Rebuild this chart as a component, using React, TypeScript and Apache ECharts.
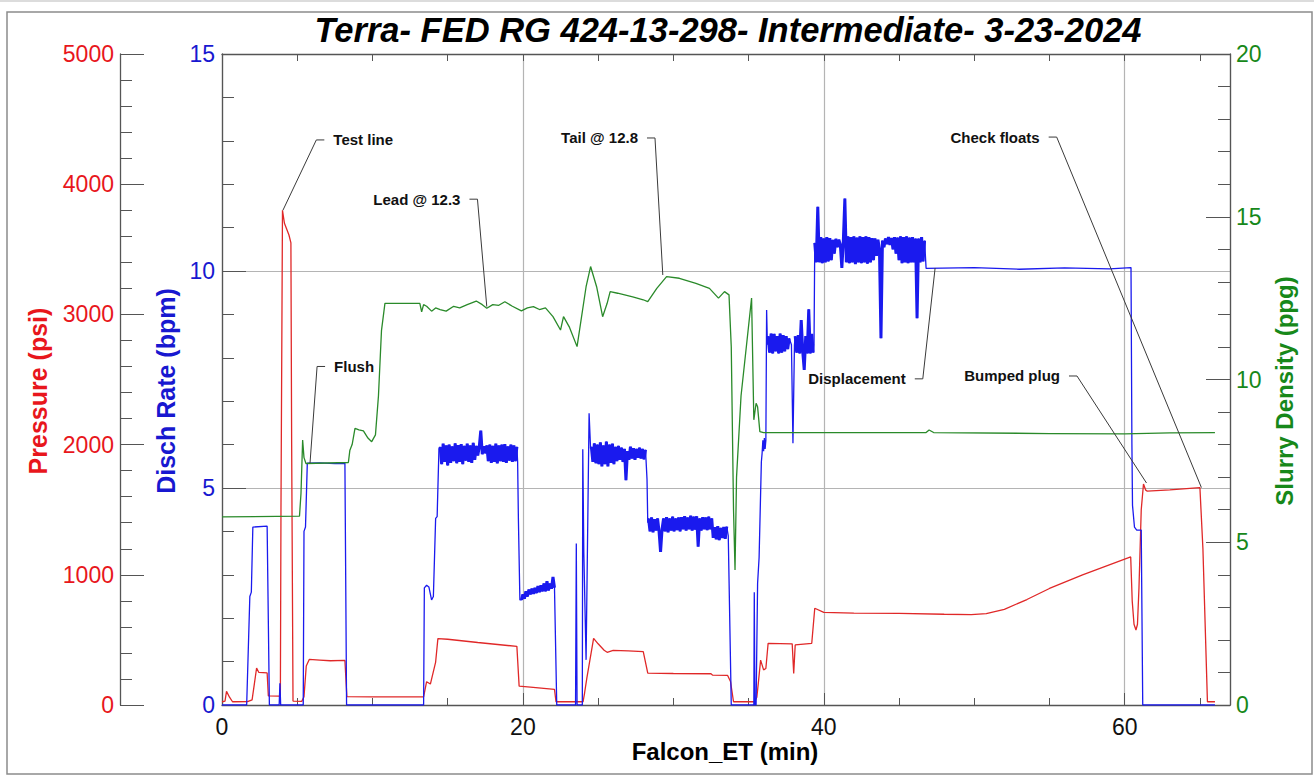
import React, { useEffect, useRef } from "react";
import * as echarts from "echarts";

// ---------- texts ----------
const TITLE = "Terra- FED RG 424-13-298- Intermediate- 3-23-2024";
const X_NAME = "Falcon_ET (min)";
const P_NAME = "Pressure (psi)";
const R_NAME = "Disch Rate (bpm)";
const D_NAME = "Slurry Density (ppg)";

// ---------- data (time in min, value) ----------
const pressure: [number, number][] = [
  [0, 25], [0.2, 30], [0.3, 105], [0.5, 60], [0.7, 25], [1.7, 26], [2.0, 40], [2.3, 284], [2.45, 250],
  [3.0, 246], [3.08, 70], [3.8, 68], [3.88, 70], [3.92, 1500], [4.02, 3800], [4.15, 3700], [4.45, 3610],
  [4.58, 3550], [4.63, 2000], [4.72, 30], [5.3, 28], [5.45, 64], [5.6, 300], [5.8, 350], [6.5, 345],
  [7.2, 340], [8.17, 342], [8.3, 64], [10, 62], [13.4, 62], [13.6, 179], [13.85, 161], [14.2, 330],
  [14.35, 510], [15, 505], [17, 480], [19.6, 450], [19.75, 145], [20.5, 138], [22.1, 120], [22.2, 25],
  [24.0, 25], [24.1, 92], [24.25, 207], [24.7, 512], [25.0, 470], [25.4, 420], [25.6, 405], [26.0, 420],
  [27.0, 415], [28.0, 410], [28.3, 245], [30, 242], [32.5, 240], [32.6, 230], [33.6, 228], [33.8, 180],
  [34.0, 25], [35.4, 25], [35.55, 60], [35.65, 170], [35.8, 345], [36.0, 270], [36.15, 280], [36.3, 474],
  [37.9, 470], [38.0, 243], [38.1, 461], [39.2, 474], [39.4, 743], [40, 712], [42, 706], [45, 704],
  [48, 697], [49.8, 694], [50.8, 702], [52, 735], [53.5, 810], [55, 895], [57.2, 1000], [60.4, 1137],
  [60.5, 800], [60.62, 620], [60.75, 576], [60.85, 620], [60.95, 900], [61.1, 1500], [61.25, 1697],
  [61.4, 1650], [61.5, 1643], [63, 1652], [65.0, 1670], [65.2, 1200], [65.5, 25], [66.0, 25],
];

// discharge rate: plain stretches and noisy bands (start, step, sampled values)
const rate1: [number, number][] = [
  [0, 0], [1.64, 0], [1.85, 2.5], [1.95, 2.6], [2.05, 4.1], [3.0, 4.12], [3.15, 0], [3.8, 0], [3.85, 0.5],
  [3.9, 0], [5.4, 0], [5.45, 4.0], [5.55, 4.1], [5.67, 5.57], [6.5, 5.58], [7.5, 5.56], [8.17, 5.57],
  [8.28, 0], [13.4, 0], [13.45, 2.7], [13.6, 2.76], [13.75, 2.72], [13.93, 2.42], [14.05, 2.5],
  [14.2, 4.3], [14.3, 4.34], [14.42, 5.9],
];
const rateBand1 = { start: 14.5, step: 0.1, values: [
  5.95, 5.55, 6.02, 5.6, 5.98, 5.52, 6.0, 5.58, 5.96, 5.62, 6.03, 5.57, 5.99, 5.6, 6.01, 5.55, 5.97, 5.63,
  6.02, 5.6, 5.98, 5.58, 6.04, 5.65, 5.97, 5.75, 5.95, 6.32, 5.78, 5.96, 5.8, 5.98, 5.62, 6.0, 5.58, 5.97,
  5.6, 6.02, 5.57, 5.98, 5.62, 6.0, 5.6, 6.01, 5.58, 5.96, 5.63, 6.0, 5.6, 5.98, 5.62, 5.95,
] };
const rate2: [number, number][] = [[19.65, 5.6], [19.7, 4.3], [19.8, 2.42]];
const rateBand2 = { start: 19.9, step: 0.1, values: [
  2.42, 2.55, 2.45, 2.62, 2.5, 2.66, 2.55, 2.68, 2.56, 2.7, 2.58, 2.74, 2.6, 2.76, 2.62, 2.8, 2.62, 2.85,
  2.64, 2.8, 2.68, 2.95, 2.7,
] };
const rate3: [number, number][] = [
  [22.25, 0], [23.5, 0], [23.55, 3.72], [23.6, 0], [23.95, 0], [23.98, 5.89], [24.05, 3.5], [24.2, 1.04],
  [24.4, 6.72], [24.5, 5.9],
];
const rateBand3 = { start: 24.55, step: 0.1, values: [
  5.95, 5.6, 6.03, 5.57, 6.0, 5.55, 6.05, 5.5, 5.98, 5.55, 6.07, 5.5, 6.0, 5.58, 6.02, 5.55, 5.95, 5.62,
  5.97, 5.65, 5.93, 5.6, 5.9, 5.18, 5.85, 5.65, 5.95, 5.68, 5.92, 5.65, 5.9, 5.7, 5.93, 5.68, 5.9, 5.66, 5.88,
] };
const rate4: [number, number][] = [[28.25, 5.2], [28.3, 4.2]];
const rateBand4 = { start: 28.35, step: 0.1, values: [
  4.3, 4.0, 4.32, 3.98, 4.28, 4.02, 4.3, 4.0, 3.53, 4.05, 4.3, 4.0, 4.33, 3.98, 4.3, 4.02, 4.34, 4.0,
  4.3, 4.03, 4.32, 4.0, 4.33, 4.05, 4.35, 4.02, 4.32, 4.05, 4.36, 4.02, 4.34, 4.04, 4.35, 3.65, 4.3, 4.02,
  4.33, 4.05, 4.32, 4.03, 4.34, 4.05, 4.3, 3.85, 4.1, 3.82, 4.12, 3.8, 4.08, 3.85, 4.1, 3.83, 4.11,
] };
const rate5: [number, number][] = [
  [33.65, 3.9], [33.85, 0], [35.35, 0], [35.38, 2.6], [35.42, 0], [35.5, 0], [35.6, 2.8], [35.7, 3.4],
  [35.85, 5.6], [35.9, 5.8], [35.95, 6.1], [36.0, 5.85], [36.05, 6.15], [36.1, 5.9], [36.15, 6.1],
  [36.2, 9.1], [36.25, 8.3],
];
const rateBand5 = { start: 36.3, step: 0.1, values: [
  8.5, 8.12, 8.56, 8.1, 8.55, 8.15, 8.5, 8.1, 8.56, 8.12, 8.52, 8.15, 8.5, 8.2, 8.45,
] };
const rate6: [number, number][] = [[37.85, 8.3], [37.95, 6.03], [38.05, 8.3]];
const rateBand6 = { start: 38.1, step: 0.1, values: [
  8.5, 8.12, 8.52, 8.1, 8.87, 8.15, 7.72, 8.5, 8.1, 9.12, 8.1, 8.55, 8.12,
] };
const rate7: [number, number][] = [[39.35, 8.3]];
const rateBand7 = { start: 39.4, step: 0.1, values: [
  10.65, 10.2, 11.48, 10.2, 10.78, 10.18, 10.75, 10.2, 10.78, 10.22, 10.76, 10.25, 10.72, 10.4, 10.74,
  10.55, 10.72, 10.6, 10.07, 10.7, 11.67, 10.2, 10.8, 10.18, 10.78, 10.2, 10.8, 10.16, 10.77, 10.2, 10.8,
  10.18, 10.78, 10.2, 10.8, 10.17, 10.78, 10.2, 10.76, 10.25, 10.75, 10.35, 10.72, 10.5, 8.45, 10.7,
  10.55, 10.75, 10.62, 10.78, 10.6, 10.76, 10.5, 10.78, 10.4, 10.77, 10.25, 10.8, 10.18, 10.78, 10.2,
  10.8, 10.18, 10.77, 10.2, 10.78, 10.2, 10.75, 8.91, 10.75, 10.2, 10.78, 10.22, 10.7,
] };
const rate8: [number, number][] = [
  [46.8, 10.06], [50, 10.08], [53, 10.04], [56, 10.07], [59, 10.05], [60.42, 10.08], [60.48, 6.0],
  [60.52, 4.6], [60.65, 4.1], [60.8, 4.03], [61.1, 4.03], [61.2, 0], [66, 0],
];

const density: [number, number][] = [
  [0, 5.78], [5.15, 5.8], [5.25, 6.5], [5.36, 8.14], [5.45, 7.6], [5.58, 7.42], [8.4, 7.45], [8.5, 7.83],
  [8.65, 8.0], [8.84, 8.5], [9.1, 8.45], [9.4, 8.42], [9.7, 8.2], [9.95, 8.09], [10.2, 8.3], [10.4, 9.5],
  [10.6, 11.5], [10.83, 12.34], [13.15, 12.34], [13.27, 12.08], [13.4, 12.3], [13.6, 12.25], [13.93, 12.1],
  [14.2, 12.2], [14.5, 12.15], [14.9, 12.1], [15.4, 12.25], [15.8, 12.2], [16.3, 12.3], [16.9, 12.41],
  [17.3, 12.3], [17.6, 12.19], [18.0, 12.3], [18.4, 12.28], [18.8, 12.39], [19.3, 12.25], [19.9, 12.11],
  [20.3, 12.2], [20.7, 12.24], [21.1, 12.15], [21.5, 12.2], [22.0, 11.93], [22.5, 11.52], [22.7, 11.93],
  [23.1, 11.6], [23.6, 11.01], [24.2, 12.85], [24.5, 13.47], [24.9, 12.85], [25.3, 11.93], [25.6, 12.34],
  [25.8, 12.7], [26.3, 12.65], [27.3, 12.54], [28.0, 12.45], [28.3, 12.39], [28.9, 12.8], [29.55, 13.16],
  [30.4, 13.11], [31.5, 12.95], [32.4, 12.8], [33.0, 12.5], [33.4, 12.7], [33.7, 12.6], [33.85, 11.0],
  [34.0, 6.0], [34.1, 4.15], [34.2, 7.0], [34.5, 9.5], [34.85, 11.0], [35.2, 12.5], [35.35, 8.76],
  [35.5, 9.27], [35.6, 9.16], [35.75, 8.4], [36, 8.37], [46.8, 8.37], [47.0, 8.45], [47.3, 8.37],
  [55, 8.34], [60, 8.33], [63, 8.36], [66, 8.37],
];

// annotations: anchor (t, value on y axis index) and label position (t, psi)
const ANNOTATIONS = [
  { text: "Test line", t: 4.05, v: 3800, axis: 0, lt: 7.4, lp: 4340, side: "left" },
  { text: "Lead @ 12.3", t: 17.6, v: 12.24, axis: 2, lt: 15.85, lp: 3885, side: "right" },
  { text: "Tail @ 12.8", t: 29.3, v: 13.21, axis: 2, lt: 27.65, lp: 4355, side: "right" },
  { text: "Flush", t: 5.85, v: 7.43, axis: 2, lt: 7.45, lp: 2600, side: "left" },
  { text: "Displacement", t: 47.4, v: 10.07, axis: 1, lt: 45.45, lp: 2505, side: "right" },
  { text: "Bumped plug", t: 61.45, v: 1705, axis: 0, lt: 55.7, lp: 2527, side: "right" },
  { text: "Check floats", t: 65.1, v: 1670, axis: 0, lt: 54.35, lp: 4362, side: "right" },
];

// ---------- styles ----------
const RED = "#e8161c";
const BLUE = "#1818d0";
const GREEN = "#17881a";
const RED_LINE = "#e02828";
const BLUE_LINE = "#1a1aee";
const GREEN_LINE = "#2a8a2a";
const AXIS = "#555";
const GRIDC = "#b4b4b4";
const FONT = '"Liberation Sans", Arial, Helvetica, sans-serif';

type Band = { start: number; step: number; values: number[] };
function band(b: Band): [number, number][] {
  return b.values.map((v, i) => [Math.round((b.start + i * b.step) * 1000) / 1000, v] as [number, number]);
}

const BANDS: Band[] = [rateBand1, rateBand2, rateBand3, rateBand4, rateBand5, rateBand6, rateBand7];

const rate: [number, number][] = [
  ...rate1, ...band(rateBand1), ...rate2, ...band(rateBand2), ...rate3, ...band(rateBand3), ...rate4,
  ...band(rateBand4), ...rate5, ...band(rateBand5), ...rate6, ...band(rateBand6), ...rate7,
  ...band(rateBand7), ...rate8,
];

// the noisy bands drawn once more, thicker, so they read as solid like the recorder trace
const bandOverlay: any[] = [];
BANDS.forEach((b, i) => {
  if (i > 0) bandOverlay.push([b.start - 0.01, "-"]);
  bandOverlay.push(...band(b));
});

const int = (v: number) => String(v);

function yAxisCfg(extra: any) {
  return {
    type: "value",
    axisLine: { show: true, onZero: false, lineStyle: { color: AXIS, width: 1.3 } },
    axisTick: { show: true, inside: true, length: 24, lineStyle: { color: AXIS, width: 1 } },
    minorTick: { show: true, splitNumber: 5, length: 12, lineStyle: { color: AXIS, width: 1 } },
    splitLine: { show: false },
    ...extra,
  };
}

export default function App() {
  const ref = useRef<HTMLDivElement>(null);
  useEffect(() => {
    const el = ref.current;
    if (!el) return;
    const chart = echarts.init(el, null, { renderer: "svg" });
    const option: any = {
      animation: false,
      backgroundColor: "#ffffff",
      grid: { left: 222, right: 84, top: 54, bottom: 72, containLabel: false },
      xAxis: [
        {
          type: "value", position: "bottom", min: 0, max: 67, interval: 20,
          axisLine: { show: true, onZero: false, lineStyle: { color: AXIS, width: 1.3 } },
          axisTick: { show: true, inside: true, length: 12, lineStyle: { color: AXIS } },
          axisLabel: {
            show: true, color: "#111", fontSize: 23, fontFamily: FONT, margin: 10, showMaxLabel: false,
            formatter: (v: number) => (v % 20 === 0 ? String(v) : ""),
          },
          splitLine: { show: true, lineStyle: { color: GRIDC, width: 1.2 } },
        },
        {
          type: "value", position: "bottom", min: 0, max: 67, interval: 5,
          axisLine: { show: false, onZero: false },
          axisTick: { show: true, inside: true, length: 7, lineStyle: { color: AXIS } },
          axisLabel: { show: false }, splitLine: { show: false },
        },
        {
          type: "value", position: "top", min: 0, max: 67, interval: 5,
          axisLine: { show: true, onZero: false, lineStyle: { color: AXIS, width: 1.3 } },
          axisTick: { show: true, inside: true, length: 7, lineStyle: { color: AXIS } },
          axisLabel: { show: false }, splitLine: { show: false },
        },
      ],
      yAxis: [
        yAxisCfg({
          position: "left", offset: 102, min: 0, max: 5000, interval: 1000,
          axisLabel: { color: RED, fontSize: 23, fontFamily: FONT, margin: 6, formatter: int },
        }),
        yAxisCfg({
          position: "left", offset: 0, min: 0, max: 15, interval: 5,
          axisLabel: { color: BLUE, fontSize: 23, fontFamily: FONT, margin: 7, formatter: int },
          splitLine: { show: true, lineStyle: { color: GRIDC, width: 1.2 } },
        }),
        yAxisCfg({
          position: "right", offset: 0, min: 0, max: 20, interval: 5,
          axisLabel: { color: GREEN, fontSize: 23, fontFamily: FONT, margin: 6, formatter: int },
        }),
      ],
      series: [
        {
          name: "Pressure", type: "line", xAxisIndex: 0, yAxisIndex: 0, data: pressure,
          symbol: "none", showSymbol: false, lineStyle: { color: RED_LINE, width: 1.3 }, z: 2,
        },
        {
          name: "Disch Rate", type: "line", xAxisIndex: 0, yAxisIndex: 1, data: rate,
          symbol: "none", showSymbol: false, lineStyle: { color: BLUE_LINE, width: 1.3 }, z: 3,
        },
        {
          name: "Disch Rate bands", type: "line", xAxisIndex: 0, yAxisIndex: 1, data: bandOverlay,
          connectNulls: false, symbol: "none", showSymbol: false,
          lineStyle: { color: BLUE_LINE, width: 3, join: "bevel" }, z: 3,
        },
        {
          name: "Slurry Density", type: "line", xAxisIndex: 0, yAxisIndex: 2, data: density,
          symbol: "none", showSymbol: false, lineStyle: { color: GREEN_LINE, width: 1.3 }, z: 4,
        },
      ],
    };
    chart.setOption(option);

    const graphics: any[] = [
      { type: "rect", silent: true, shape: { x: 0, y: 0, width: 1314, height: 2 }, style: { fill: "#dcdcdc" } },
      {
        type: "rect", silent: true, shape: { x: 7, y: 12, width: 1305, height: 762 },
        style: { fill: "none", stroke: "#8c8c8c", lineWidth: 1.5 },
      },
      {
        type: "text", silent: true, x: 728, y: 30,
        style: {
          text: TITLE, font: `italic bold 34.5px ${FONT}`, fill: "#000",
          textAlign: "center", textVerticalAlign: "middle",
        },
      },
      {
        type: "text", silent: true, x: 725, y: 751,
        style: { text: X_NAME, font: `bold 24px ${FONT}`, fill: "#000", textAlign: "center", textVerticalAlign: "middle" },
      },
      {
        type: "text", silent: true, x: 38, y: 391, rotation: Math.PI / 2,
        style: { text: P_NAME, font: `bold 25px ${FONT}`, fill: RED, textAlign: "center", textVerticalAlign: "middle" },
      },
      {
        type: "text", silent: true, x: 166, y: 391, rotation: Math.PI / 2,
        style: { text: R_NAME, font: `bold 25px ${FONT}`, fill: BLUE, textAlign: "center", textVerticalAlign: "middle" },
      },
      {
        type: "text", silent: true, x: 1284, y: 391, rotation: Math.PI / 2,
        style: { text: D_NAME, font: `bold 24px ${FONT}`, fill: GREEN, textAlign: "center", textVerticalAlign: "middle" },
      },
    ];

    for (const a of ANNOTATIONS) {
      const anc = chart.convertToPixel({ xAxisIndex: 0, yAxisIndex: a.axis } as any, [a.t, a.v]) as number[];
      const lab = chart.convertToPixel({ xAxisIndex: 0, yAxisIndex: 0 } as any, [a.lt, a.lp]) as number[];
      const dir = a.side === "left" ? -1 : 1;
      graphics.push({
        type: "polyline", silent: true, z: 10,
        shape: { points: [[lab[0] + dir * 9, lab[1]], [lab[0] + dir * 17, lab[1]], [anc[0], anc[1]]] },
        style: { stroke: "#3a3a3a", lineWidth: 1, fill: null },
      });
      graphics.push({
        type: "text", silent: true, z: 10, x: lab[0], y: lab[1],
        style: {
          text: a.text, font: `bold 15px ${FONT}`, fill: "#111",
          textAlign: a.side === "left" ? "left" : "right", textVerticalAlign: "middle",
        },
      });
    }
    chart.setOption({ graphic: graphics });

    return () => chart.dispose();
  }, []);
  return <div ref={ref} style={{ position: "absolute", left: 0, top: 0, width: 1314, height: 777 }} />;
}
